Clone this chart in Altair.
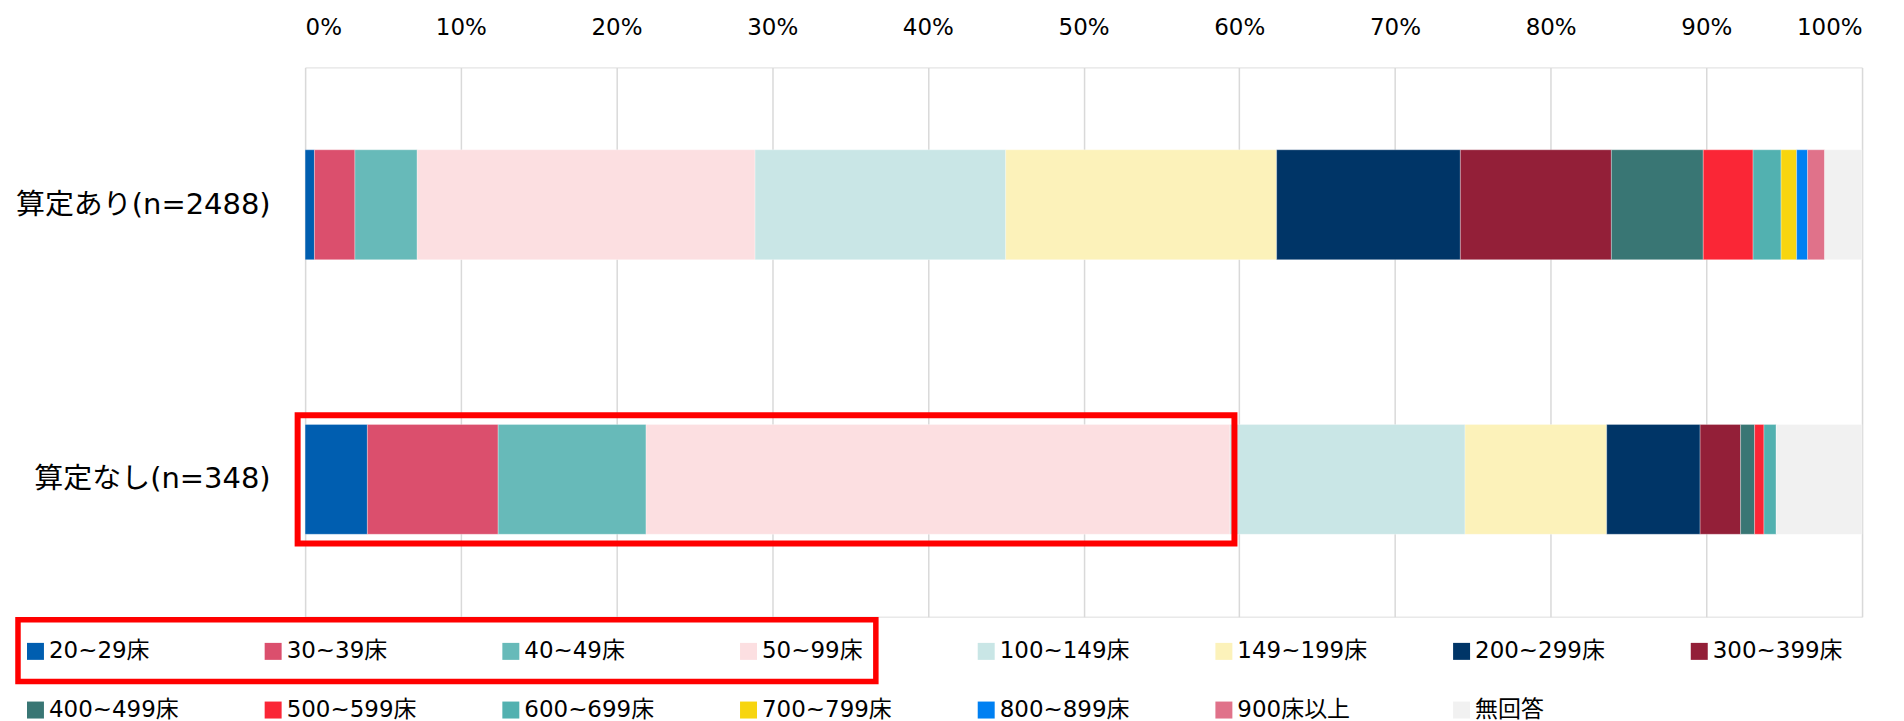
import altair as alt
import pandas as pd

groups = ["算定あり(n=2488)", "算定なし(n=348)"]
categories = ["20~29床", "30~39床", "40~49床", "50~99床", "100~149床", "149~199床",
              "200~299床", "300~399床", "400~499床", "500~599床", "600~699床",
              "700~799床", "800~899床", "900床以上", "無回答"]
colors = ["#005EB0", "#DB4F6D", "#67BAB9", "#FCDFE1", "#C9E6E6", "#FCF2BA",
          "#003567", "#931F38", "#397674", "#FA2636", "#52B1B0",
          "#F7D50F", "#0080F2", "#E0728A", "#F1F1F1"]
values_with = [0.6, 2.6, 4.0, 21.7, 16.1, 17.4, 11.8, 9.7, 5.9, 3.2, 1.8, 1.0, 0.7, 1.1, 2.4]
values_without = [4.0, 8.4, 9.5, 37.5, 15.1, 9.1, 6.0, 2.6, 0.9, 0.6, 0.8, 0.0, 0.0, 0.0, 5.5]
tick_values = [0, 10, 20, 30, 40, 50, 60, 70, 80, 90, 100]

# highlight box around the first four segments of the second bar (in % units)
box_group = ["算定なし(n=348)"]
box_start = [-0.48]
box_end = [59.69]

rows = []
for g, vals in zip(groups, [values_with, values_without]):
    for i, (c, v) in enumerate(zip(categories, vals)):
        rows.append({"group": g, "cat": c, "idx": i, "value": v})
df = pd.DataFrame(rows)
box_df = pd.DataFrame({"group": box_group, "start": box_start, "end": box_end})

FONT = "DejaVu Sans, Noto Sans CJK JP"

xscale = alt.Scale(domain=[0, 100], nice=False, zero=True)
yscale = alt.Scale(paddingInner=0.6, paddingOuter=0.3)

bars = alt.Chart(df).mark_bar(stroke="#ffffff", strokeWidth=0.5, strokeOpacity=0.6).encode(
    x=alt.X("value:Q", stack="zero", scale=xscale,
            axis=alt.Axis(orient="top", values=tick_values, labelExpr="datum.value + '%'",
                          grid=True, gridColor="#d9d9d9", gridWidth=1.5,
                          domain=False, ticks=False, tickSize=0, labelPadding=28,
                          labelFontSize=23, labelFont=FONT, labelColor="#000000",
                          title=None)),
    y=alt.Y("group:N", sort=groups, scale=yscale,
            axis=alt.Axis(domain=False, ticks=False, tickSize=0, labelPadding=35,
                          labelFontSize=29, labelFont=FONT, labelColor="#000000",
                          labelLimit=400, title=None)),
    color=alt.Color("cat:N", sort=categories,
                    scale=alt.Scale(domain=categories, range=colors),
                    legend=alt.Legend(orient="none", legendX=-281.5, legendY=573,
                                      direction="horizontal", columns=8, title=None,
                                      symbolType="square", symbolSize=289,
                                      symbolStrokeWidth=0, labelFontSize=23,
                                      labelFont=FONT, labelColor="#000000",
                                      labelOffset=2, columnPadding=82, rowPadding=35,
                                      gridAlign="all", padding=0, labelLimit=300)),
    order=alt.Order("idx:Q", sort="ascending"),
)

box = alt.Chart(box_df).mark_bar(
    fillOpacity=0, stroke="#FF0000", strokeWidth=6, height={"band": 1.166}
).encode(
    x=alt.X("start:Q", scale=xscale),
    x2="end:Q",
    y=alt.Y("group:N", sort=groups, scale=yscale),
)

legend_box = alt.Chart(pd.DataFrame({"k": [1]})).mark_rect(
    fillOpacity=0, stroke="#FF0000", strokeWidth=5.5
).encode(
    x=alt.value(-287.5), x2=alt.value(571.5), y=alt.value(553), y2=alt.value(615)
)

chart = alt.layer(bars, box, legend_box).properties(
    width=1559, height=550,
    autosize=alt.AutoSizeParams(type="none"),
    padding={"left": 297.5, "top": 59, "right": 34, "bottom": 104},
).configure_view(stroke=None).configure(font=FONT)

chart.save("out.html", embed_options={"renderer": "svg", "actions": False})
